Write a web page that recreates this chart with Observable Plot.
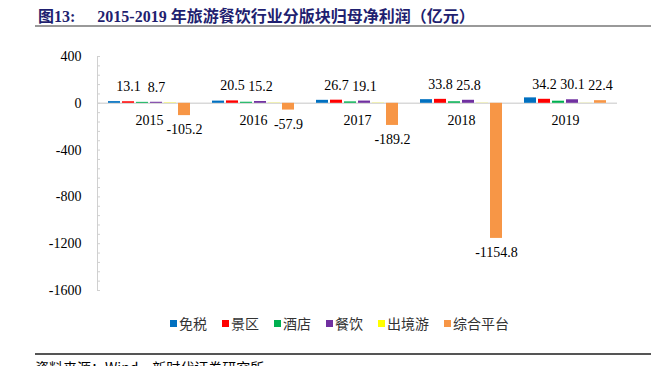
<!DOCTYPE html>
<html><head><meta charset="utf-8">
<script src="https://cdn.jsdelivr.net/npm/d3@7"></script>
<script src="https://cdn.jsdelivr.net/npm/@observablehq/plot@0.6"></script>
<style>
body{margin:0;background:#fff;}
#wrap{position:relative;width:651px;height:366px;overflow:hidden;font-family:"Liberation Serif","Noto Sans CJK SC",serif;}
#title{position:absolute;left:38px;top:3px;font-size:16px;font-weight:bold;color:#1f1f70;white-space:nowrap;font-family:"Liberation Serif","Noto Sans CJK SC",serif;}
#tline{position:absolute;left:35px;top:25px;width:616px;height:2px;background:#999;}
#chart{position:absolute;left:0;top:0;}
#legend{position:absolute;left:170px;top:313px;display:flex;align-items:center;font-family:"Noto Sans CJK SC",sans-serif;font-size:14px;color:#333;white-space:nowrap;}
#legend .it{display:flex;align-items:center;margin-right:15px;}
#legend .sw{width:7px;height:7px;margin-right:2px;}
#bline{position:absolute;left:35px;top:353px;width:616px;height:2px;background:#555;}
#source{position:absolute;left:35px;top:357px;font-size:14px;color:#000;font-family:"Noto Sans CJK SC",sans-serif;white-space:nowrap;}
</style></head><body>
<div id="wrap">
  <div id="title"><span>图13:</span><span style="margin-left:22px">2015-2019 年旅游餐饮行业分版块归母净利润（亿元）</span></div>
  <div id="tline"></div>
  <div id="chart"></div>
  <div id="legend"></div>
  <div id="bline"></div>
  <div id="source">资料来源：Wind，新时代证券研究所</div>
</div>
<script>
const years = ["2015", "2016", "2017", "2018", "2019"];
const series = ["免税", "景区", "酒店", "餐饮", "出境游", "综合平台"];
const colors = ["#0070C0", "#FF0000", "#00B050", "#7030A0", "#FFFF00", "#F79646"];
const dutyFree = [14.4, 18.7, 25.4, 31.0, 46.4];
const scenic = [13.1, 20.5, 26.7, 33.8, 34.2];
const hotel = [8, 9, 12, 13, 18];
const catering = [8.7, 15.2, 19.1, 25.8, 30.1];
const outbound = [3, 2, 2, 1.5, 1];
const platform = [-105.2, -57.9, -189.2, -1154.8, 22.4];
const labeledSeries = ["景区", "餐饮", "综合平台"];
const yTicks = [400, 0, -400, -800, -1200, -1600];
const minorTicks = d3.range(-1600, 401, 80);

const valuesBySeries = [dutyFree, scenic, hotel, catering, outbound, platform];
const rows = [];
series.forEach((s, i) => years.forEach((y, j) => rows.push({year: y, series: s, value: valuesBySeries[i][j]})));
const labelRows = rows.filter(r => labeledSeries.includes(r.series));

const chart = Plot.plot({
  width: 651, height: 300,
  marginTop: 56, marginBottom: 10, marginLeft: 96, marginRight: 33,
  fx: {domain: years, padding: 0, axis: null},
  x: {domain: series, paddingInner: 0.14, paddingOuter: 0.75, axis: null},
  y: {domain: [-1600, 400], axis: null},
  color: {domain: series, range: colors},
  style: {fontFamily: "Liberation Serif", fontSize: "14px", color: "#000", background: "transparent", overflow: "visible"},
  marks: [
    Plot.ruleY([0], {stroke: "#d9d9d9", strokeWidth: 1.5}),
    Plot.frame({anchor: "left", facetAnchor: "left", stroke: "#d0d0d0"}),
    Plot.axisY({ticks: minorTicks, tickSize: 3, dx: 3, tickFormat: () => "", stroke: "#d0d0d0", label: null}),
    Plot.axisY({ticks: yTicks, tickSize: 0, tickPadding: 16, tickFormat: d => String(d), fontSize: 14, fill: "#000", label: null}),
    Plot.barY(rows, {fx: "year", x: "series", y: "value", fill: "series"}),
    Plot.text(labelRows.filter(r => r.value >= 0), {fx: "year", x: "series", y: "value", text: r => String(r.value), dy: -15, fontSize: 14, fill: "#000"}),
    Plot.text(labelRows.filter(r => r.value < 0), {fx: "year", x: "series", y: "value", text: r => String(r.value), dy: 14, fontSize: 14, fill: "#000"}),
    Plot.text(years, {fx: d => d, y: () => 0, text: d => d, dy: 17, fontSize: 14, fill: "#000"})
  ]
});
document.getElementById("chart").appendChild(chart);

const legend = document.getElementById("legend");
series.forEach((s, i) => {
  const it = document.createElement("div");
  it.className = "it";
  const sw = document.createElement("span");
  sw.className = "sw";
  sw.style.background = colors[i];
  const t = document.createElement("span");
  t.textContent = s;
  it.appendChild(sw); it.appendChild(t);
  legend.appendChild(it);
});
</script>
</body></html>
